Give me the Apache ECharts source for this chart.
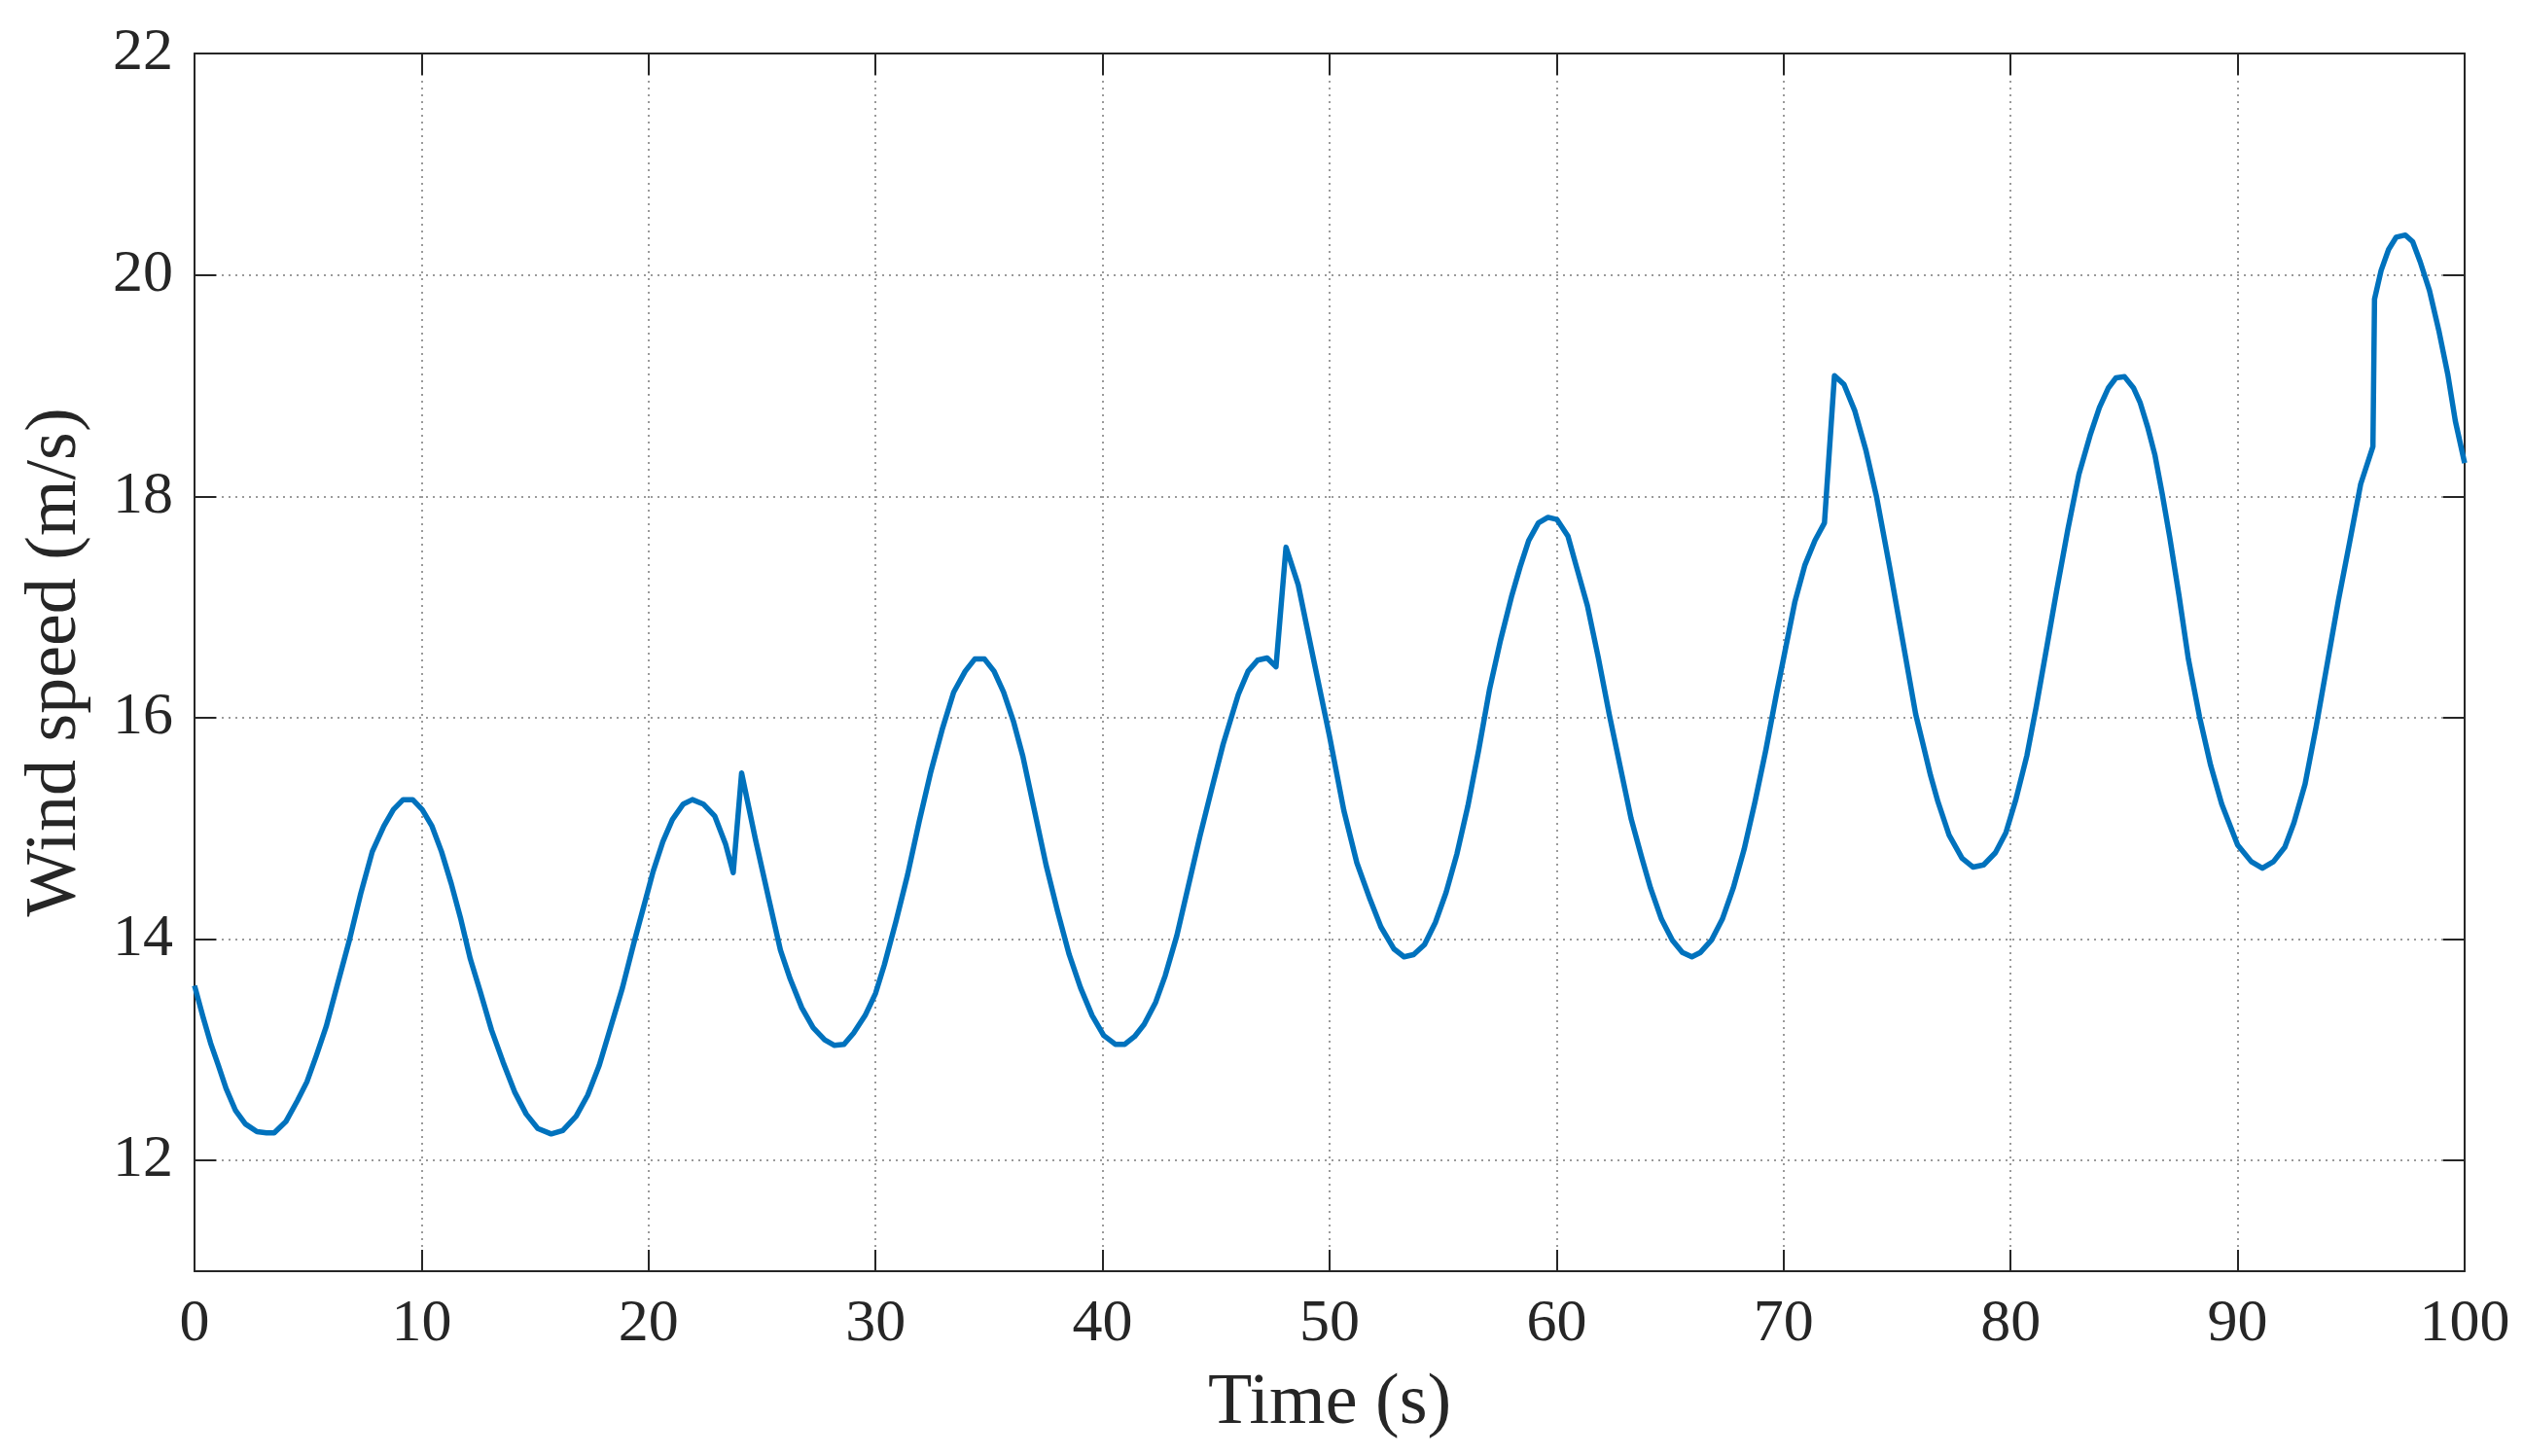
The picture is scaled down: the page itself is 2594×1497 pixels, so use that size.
<!DOCTYPE html>
<html>
<head>
<meta charset="utf-8">
<script src="https://cdn.jsdelivr.net/npm/echarts@6/dist/echarts.min.js"></script>
<style>
  html, body { margin: 0; padding: 0; background: #fff; }
  #chart { width: 2594px; height: 1497px; }
</style>
</head>
<body>
<div id="chart"></div>
<script>
// time (s) and wind speed (m/s)
var timeS = [
  0, 0.37, 0.71, 1.05, 1.39, 1.81, 2.24, 2.75, 3.17, 3.51,
  4.02, 4.53, 4.95, 5.37, 5.8, 6.31, 6.81, 7.32, 7.83, 8.34,
  8.76, 9.19, 9.61, 10.03, 10.46, 10.88, 11.31, 11.73, 12.15, 12.58,
  13.08, 13.59, 14.1, 14.61, 15.12, 15.71, 16.22, 16.81, 17.32, 17.83,
  18.34, 18.85, 19.36, 19.86, 20.2, 20.63, 21.05, 21.53, 21.93, 22.41,
  22.92, 23.39, 23.73, 24.1,
  24.71, 25.31, 25.81, 26.24, 26.75, 27.25, 27.76, 28.19, 28.61, 29.03,
  29.54, 30.0, 30.39, 30.9, 31.41, 31.92, 32.42, 32.93, 33.44, 33.95,
  34.37, 34.8, 35.22, 35.64, 36.07, 36.49, 37.0, 37.51, 38.02, 38.53,
  39.03, 39.54, 40.05, 40.56, 40.98, 41.41, 41.83, 42.34, 42.76, 43.27,
  43.78, 44.29, 44.8, 45.31, 45.98, 46.41, 46.83, 47.25, 47.64, 48.08,
  48.62, 49.2, 50.0, 50.63, 51.2, 51.78, 52.26, 52.84, 53.28, 53.7,
  54.18, 54.66, 55.13, 55.61, 56.09, 56.57, 57.05, 57.53, 58.01, 58.39,
  58.77, 59.2, 59.62, 60.02, 60.5, 60.88, 61.36, 61.84, 62.32, 62.8,
  63.28, 63.76, 64.14, 64.62, 65.1, 65.54, 65.96, 66.34, 66.82, 67.3,
  67.78, 68.26, 68.74, 69.22, 69.69, 70.08, 70.5, 70.94, 71.38, 71.8,
  72.24, 72.66, 73.14, 73.62, 74.1, 74.67, 75.25, 75.82, 76.14, 76.47,
  76.8, 77.29, 77.86, 78.35, 78.81, 79.33, 79.79, 80.23, 80.72, 81.13,
  81.62, 82.03, 82.52, 83.01, 83.5, 83.91, 84.31, 84.64, 85.02, 85.41,
  85.7, 86.03, 86.36, 86.68, 87.01, 87.42, 87.83, 88.32, 88.81, 89.3,
  89.62, 90.0, 90.6, 91.09, 91.58, 92.08, 92.48, 92.97, 93.46, 93.95,
  94.44, 94.93, 95.42, 95.96, 96.03, 96.32, 96.65, 96.98, 97.39, 97.71,
  98.04, 98.45, 98.86, 99.26, 99.59, 100
];
var windSpeed = [
  13.58, 13.30, 13.06, 12.86, 12.65, 12.45, 12.33, 12.26, 12.25, 12.25,
  12.35, 12.54, 12.71, 12.95, 13.21, 13.60, 13.98, 14.41, 14.79, 15.02,
  15.17, 15.26, 15.26, 15.17, 15.02, 14.79, 14.50, 14.18, 13.82, 13.53,
  13.18, 12.89, 12.62, 12.42, 12.29, 12.24, 12.27, 12.40, 12.59, 12.86,
  13.21, 13.56, 13.97, 14.35, 14.61, 14.88, 15.08, 15.22, 15.26, 15.22,
  15.11, 14.86, 14.60, 15.50,
  14.90, 14.35, 13.90, 13.64, 13.38, 13.20, 13.09, 13.04, 13.05, 13.15,
  13.31, 13.51, 13.77, 14.16, 14.58, 15.06, 15.50, 15.89, 16.23, 16.42,
  16.53, 16.53, 16.42, 16.23, 15.97, 15.65, 15.16, 14.67, 14.25, 13.86,
  13.56, 13.31, 13.13, 13.05, 13.05, 13.12, 13.23, 13.43, 13.67, 14.03,
  14.48, 14.93, 15.35, 15.76, 16.21, 16.42, 16.52, 16.54, 16.46, 17.54,
  17.20, 16.62, 15.83, 15.16, 14.69, 14.36, 14.11, 13.91, 13.84, 13.86,
  13.95, 14.15, 14.42, 14.77, 15.20, 15.71, 16.26, 16.70, 17.09, 17.36,
  17.60, 17.76, 17.81, 17.79, 17.64, 17.36, 17.01, 16.54, 16.03, 15.56,
  15.09, 14.73, 14.46, 14.18, 13.99, 13.88, 13.84, 13.88, 13.99, 14.18,
  14.46, 14.81, 15.24, 15.71, 16.22, 16.62, 17.05, 17.38, 17.60, 17.76,
  19.09, 19.01, 18.77, 18.42, 17.99, 17.36, 16.69, 16.03, 15.76, 15.48,
  15.24, 14.94, 14.73, 14.65, 14.67, 14.78, 14.96, 15.26, 15.66, 16.10,
  16.67, 17.15, 17.70, 18.20, 18.55, 18.80, 18.98, 19.07, 19.08, 18.98,
  18.85, 18.63, 18.37, 18.02, 17.63, 17.10, 16.53, 16.01, 15.57, 15.22,
  15.05, 14.85, 14.70, 14.64, 14.70, 14.83, 15.05, 15.40, 15.92, 16.49,
  17.06, 17.58, 18.11, 18.45, 19.78, 20.04, 20.23, 20.34, 20.36, 20.30,
  20.12, 19.86, 19.50, 19.10, 18.68, 18.30
];
var xTicks = [0, 10, 20, 30, 40, 50, 60, 70, 80, 90, 100];
var yTicks = [12, 14, 16, 18, 20, 22];

var font = 'Liberation Serif';
var ink = '#262626';

var lineData = timeS.map(function (t, i) { return [t, windSpeed[i]]; });

var chart = echarts.init(document.getElementById('chart'));

var gridLine = { show: true, lineStyle: { color: '#9a9a9a', width: 2, type: [2, 5] } };
var boxLine = { show: true, onZero: false, lineStyle: { color: ink, width: 2 } };
var tick = { show: true, inside: true, length: 22, lineStyle: { color: ink, width: 2 } };

var option = {
  animation: false,
  backgroundColor: '#fff',
  grid: { left: 200, right: 60, top: 55, bottom: 190, containLabel: false },
  xAxis: [
    {
      type: 'value', position: 'bottom',
      min: xTicks[0], max: xTicks[xTicks.length - 1], interval: 10,
      axisLine: boxLine,
      axisTick: tick,
      axisLabel: { margin: 24, fontSize: 62, fontFamily: font, color: ink },
      splitLine: gridLine,
      name: 'Time (s)', nameLocation: 'middle', nameGap: 100,
      nameTextStyle: { fontSize: 74, fontFamily: font, color: ink }
    },
    {
      type: 'value', position: 'top',
      min: xTicks[0], max: xTicks[xTicks.length - 1], interval: 10,
      axisLine: boxLine, axisTick: tick,
      axisLabel: { show: false }, splitLine: { show: false }
    }
  ],
  yAxis: [
    {
      type: 'value', position: 'left', min: 11, max: 22,
      axisLine: boxLine,
      axisTick: { show: true, inside: true, length: 22, customValues: yTicks, lineStyle: { color: ink, width: 2 } },
      axisLabel: { margin: 22, fontSize: 62, fontFamily: font, color: ink, customValues: yTicks },
      splitLine: gridLine,
      name: 'Wind speed (m/s)', nameLocation: 'middle', nameGap: 105,
      nameTextStyle: { fontSize: 74, fontFamily: font, color: ink }
    },
    {
      type: 'value', position: 'right', min: 11, max: 22,
      axisLine: boxLine,
      axisTick: { show: true, inside: true, length: 22, customValues: yTicks, lineStyle: { color: ink, width: 2 } },
      axisLabel: { show: false }, splitLine: { show: false }
    }
  ],
  series: [
    {
      type: 'line',
      data: lineData,
      showSymbol: false,
      symbol: 'none',
      lineStyle: { color: '#0072BD', width: 5.5, join: 'round' },
      clip: true
    }
  ]
};

chart.setOption(option);
</script>
</body>
</html>
